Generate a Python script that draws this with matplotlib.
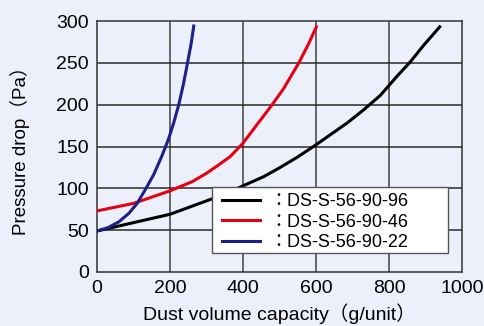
import matplotlib.pyplot as plt
from matplotlib.patches import Rectangle

plt.rcParams['font.family'] = ['Liberation Sans', 'Noto Sans CJK JP', 'DejaVu Sans']

# dust load (g/unit) vs pressure drop (Pa)
x_96 = [0, 100, 200, 300, 350, 400, 457, 502, 548, 600, 639, 685, 731, 776,
        800, 822, 858, 895, 939]
y_96 = [49, 59, 69, 85, 93, 103, 114, 125, 137, 152, 164, 178, 194, 211,
        223, 234, 251, 271, 293]

x_46 = [0, 100, 200, 261, 300, 330, 365, 400, 438, 480, 511, 553, 580, 601]
y_46 = [73, 82, 97, 108, 118, 127, 138, 154, 176, 200, 219, 250, 273, 293]

x_22 = [0, 30, 60, 87, 110, 133, 156, 179, 196, 210, 224, 237, 248, 258, 265]
y_22 = [49, 53, 60, 70, 82, 99, 117, 140, 159, 178, 200, 225, 250, 273, 294]

labels = ['：DS-S-56-90-96', '：DS-S-56-90-46', '：DS-S-56-90-22']
xticks = [0, 200, 400, 600, 800, 1000]
yticks = [0, 50, 100, 150, 200, 250, 300]

W, H = 484, 326
bg = '#ebf0fa'
fig = plt.figure(figsize=(W/100, H/100), dpi=100, facecolor=bg)
ax = fig.add_axes([97/W, 1 - 272/H, 365/W, 251/H])
ax.set_facecolor(bg)

ax.plot(x_96, y_96, color='black', lw=2.2, label=labels[0], zorder=3)
ax.plot(x_46, y_46, color='#e60012', lw=2.2, label=labels[1], zorder=3)
ax.plot(x_22, y_22, color='#1d2088', lw=2.2, label=labels[2], zorder=3)

ax.set_xlim(0, 1000)
ax.set_ylim(0, 300)
ax.set_xticks(xticks)
ax.set_yticks(yticks)
for v in xticks[1:-1]:
    ax.axvline(v, color='#5a5a5a', lw=1.3, zorder=1)
for v in yticks[1:-1]:
    ax.axhline(v, color='#2a2a2a', lw=1.1, zorder=1)
for s in ax.spines.values():
    s.set_color('#333333')
    s.set_linewidth(1.1)
ax.tick_params(length=0, labelsize=14, pad=6)

ax.set_xlabel('Dust volume capacity（g/unit）', fontsize=14, labelpad=4)
ax.set_ylabel('Pressure drop（Pa）', fontsize=13.5, labelpad=19)

# white legend box, drawn separately so it can be wider than the text
box = Rectangle((212/W, 1 - 253/H), 236/W, 66/H, transform=fig.transFigure,
                facecolor='white', edgecolor='#555555', lw=1, zorder=4)
ax.add_patch(box)
box.set_clip_on(False)

leg = ax.legend(loc='upper left', bbox_to_anchor=(222/W, 1 - 193/H),
                bbox_transform=fig.transFigure, fontsize=13, frameon=False,
                handlelength=2.1, handletextpad=0.5,
                borderpad=0, labelspacing=0.2, borderaxespad=0)
leg.set_zorder(5)

fig.savefig('out.png', dpi=100, facecolor=bg)
